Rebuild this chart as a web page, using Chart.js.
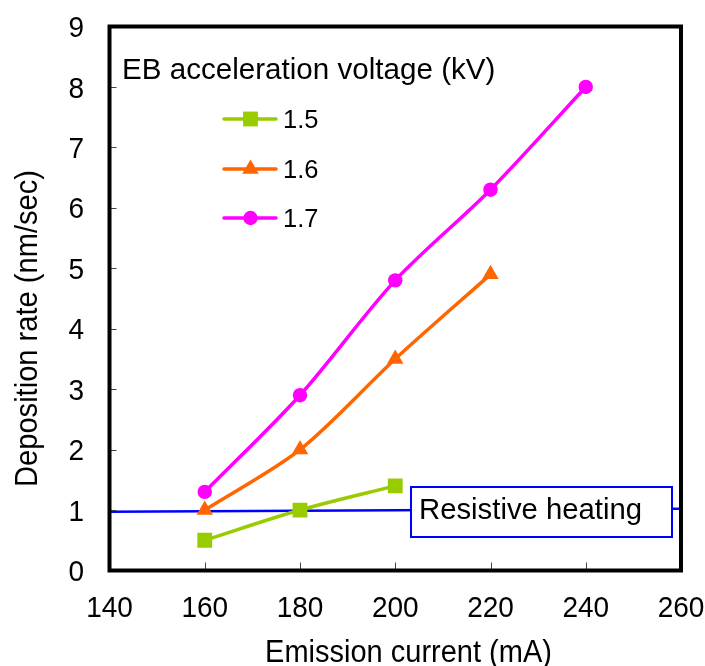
<!DOCTYPE html>
<html>
<head>
<meta charset="utf-8">
<script src="https://cdn.jsdelivr.net/npm/chart.js@4.4.1/dist/chart.umd.min.js"></script>
<style>
html,body{margin:0;padding:0;background:#fff;}
#wrap{width:705px;height:666px;}
</style>
</head>
<body>
<div id="wrap"><canvas id="c" width="705" height="666"></canvas></div>
<script>
// ---- data ----
const current15 = [160, 180, 200];
const rate15 = [0.5, 1.0, 1.4];
const current16 = [160, 180, 200, 220];
const rate16 = [1.0, 2.0, 3.5, 4.9];
const current17 = [160, 180, 200, 220, 240];
const rate17 = [1.3, 2.9, 4.8, 6.3, 8.0];
const resistiveCurrent = [140, 260];
const resistiveRate = [0.97, 1.02];
const seriesLabels = ['1.5', '1.6', '1.7'];
const xTicks = [140, 160, 180, 200, 220, 240, 260];
const yTicks = [0, 1, 2, 3, 4, 5, 6, 7, 8, 9];
const legendTitle = 'EB acceleration voltage (kV)';
const resistiveLabel = 'Resistive heating';
const xTitle = 'Emission current (mA)';
const yTitle = 'Deposition rate (nm/sec)';

const FONT = "'Liberation Sans', Arial, sans-serif";
const pts = (xs, ys) => xs.map((x, i) => ({x: x, y: ys[i]}));

const series = [
  {label: seriesLabels[0], data: pts(current15, rate15), color: '#99CC00', style: 'rect', radius: 10.5},
  {label: seriesLabels[1], data: pts(current16, rate16), color: '#FF6600', style: 'triangle', radius: 9.5},
  {label: seriesLabels[2], data: pts(current17, rate17), color: '#FF00FF', style: 'circle', radius: 7.2}
];

const datasets = [{
  label: resistiveLabel,
  data: pts(resistiveCurrent, resistiveRate),
  borderColor: '#0000FF',
  borderWidth: 2.5,
  pointRadius: 0,
  showLine: true,
  tension: 0,
  order: 5
}].concat(series.map(s => ({
  label: s.label,
  data: s.data,
  borderColor: s.color,
  backgroundColor: s.color,
  borderWidth: 3.5,
  pointStyle: s.style,
  pointRadius: s.radius,
  pointBorderWidth: 0,
  pointBackgroundColor: s.color,
  showLine: true,
  tension: 0.3,
  order: 1
})));

function text(ctx, str, x, y, size, sy, align, baseline, rot) {
  ctx.save();
  ctx.translate(x, y);
  if (rot) ctx.rotate(rot);
  ctx.scale(1, sy);
  ctx.font = size + 'px ' + FONT;
  ctx.textAlign = align;
  ctx.textBaseline = baseline;
  ctx.fillStyle = '#000';
  ctx.fillText(str, 0, 0);
  ctx.restore();
}

const decor = {
  id: 'decor',
  afterDatasetsDraw(chart) {
    const ctx = chart.ctx;
    const a = chart.chartArea;
    const xs = chart.scales.x, ys = chart.scales.y;
    ctx.save();
    // resistive heating label box
    const bx = 411, by = 487, bw = 261, bh = 50;
    ctx.fillStyle = '#fff';
    ctx.fillRect(bx, by, bw, bh);
    ctx.strokeStyle = '#0000FF';
    ctx.lineWidth = 2;
    ctx.strokeRect(bx, by, bw, bh);
    text(ctx, resistiveLabel, 419, 519, 29.3, 1.0, 'left', 'alphabetic');

    // inward tick marks
    ctx.strokeStyle = '#444';
    ctx.lineWidth = 1;
    ctx.beginPath();
    xTicks.forEach(v => {
      const px = Math.round(xs.getPixelForValue(v)) + 0.5;
      ctx.moveTo(px, a.bottom); ctx.lineTo(px, a.bottom - 8);
    });
    yTicks.forEach(v => {
      const py = Math.round(ys.getPixelForValue(v)) + 0.5;
      ctx.moveTo(a.left, py); ctx.lineTo(a.left + 7, py);
    });
    ctx.stroke();

    // frame
    ctx.strokeStyle = '#000';
    ctx.lineWidth = 4;
    ctx.strokeRect(a.left, a.top, a.right - a.left, a.bottom - a.top);

    // tick labels
    xTicks.forEach(v => text(ctx, String(v), xs.getPixelForValue(v), 617, 28, 1.08, 'center', 'alphabetic'));
    yTicks.forEach(v => text(ctx, String(v), 84, ys.getPixelForValue(v) + 10.6, 28, 1.08, 'right', 'alphabetic'));

    // axis titles
    text(ctx, xTitle, 408.5, 662, 29, 1.1, 'center', 'alphabetic');
    text(ctx, yTitle, 37, 328.5, 29.1, 1.1, 'center', 'alphabetic', -Math.PI / 2);

    // legend
    text(ctx, legendTitle, 122, 78.5, 29.6, 1.0, 'left', 'alphabetic');
    const rows = [119, 169, 218];
    series.forEach((s, i) => {
      const y = rows[i];
      ctx.strokeStyle = s.color;
      ctx.lineWidth = 3.5;
      ctx.lineCap = 'round';
      ctx.beginPath();
      ctx.moveTo(224, y); ctx.lineTo(276, y);
      ctx.stroke();
      ctx.fillStyle = s.color;
      Chart.helpers.drawPoint(ctx, {pointStyle: s.style, radius: s.radius, rotation: 0, borderWidth: 0}, 250.5, y);
      text(ctx, s.label, 283, y + 8.5, 25.5, 1.02, 'left', 'alphabetic');
    });
    ctx.restore();
  }
};

new Chart(document.getElementById('c'), {
  type: 'scatter',
  data: {datasets: datasets},
  options: {
    responsive: false,
    animation: false,
    devicePixelRatio: 1,
    layout: {padding: {left: 0, right: 24, top: 26.5, bottom: 0}},
    plugins: {legend: {display: false}, tooltip: {enabled: false}},
    scales: {
      x: {
        type: 'linear', min: 140, max: 260,
        ticks: {display: false, stepSize: 20},
        grid: {display: false, drawTicks: false},
        border: {display: false},
        afterFit(s) { s.height = 95.5; }
      },
      y: {
        type: 'linear', min: 0, max: 9,
        ticks: {display: false, stepSize: 1},
        grid: {display: false, drawTicks: false},
        border: {display: false},
        afterFit(s) { s.width = 109.5; }
      }
    }
  },
  plugins: [decor]
});
</script>
</body>
</html>
